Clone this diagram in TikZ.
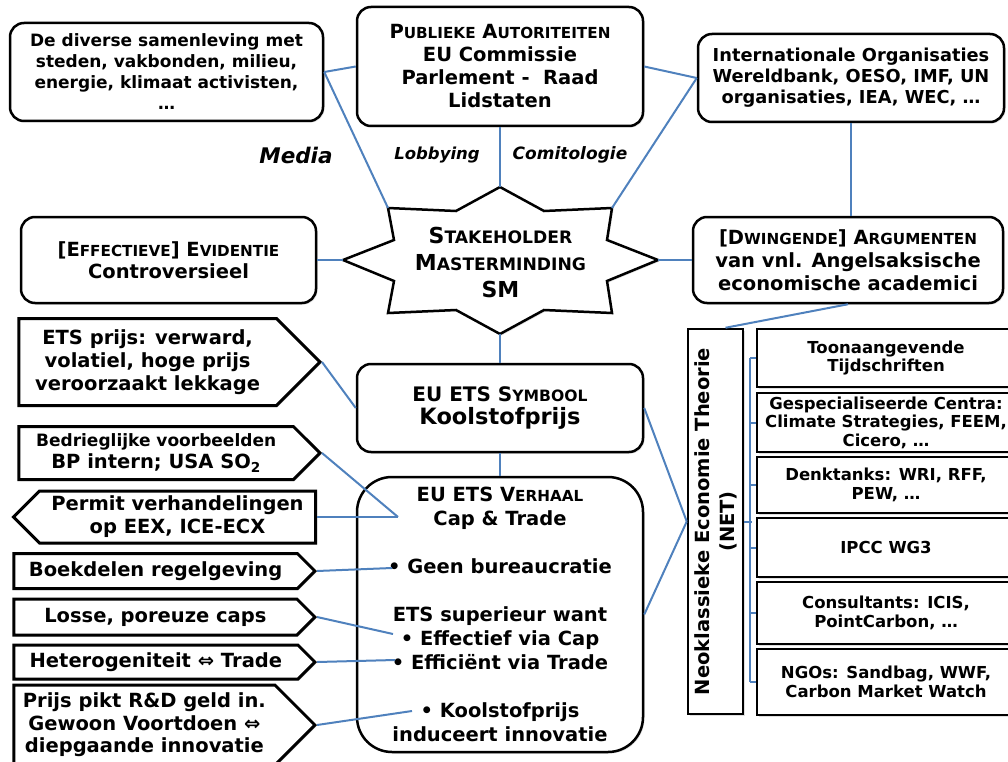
\documentclass[tikz,border=0pt]{standalone}
\usepackage{fontspec}
\setmainfont{DejaVu Sans}
\usetikzlibrary{shapes.symbols,shadows}
\definecolor{lijnblauw}{RGB}{79,129,189}
\makeatletter
\newdimen\kapmaat
\newcommand{\kap}[1]{{\kapmaat=\f@size pt\kapmaat=0.78\kapmaat
  \fontsize{\strip@pt\kapmaat}{\f@baselineskip}\selectfont #1}}
\makeatother
\newcommand{\fs}[2]{\fontsize{#1}{#2}\selectfont\bfseries}
\tikzset{
  schaduw/.style={drop shadow={shadow xshift=1.5pt,shadow yshift=-1.5pt,opacity=0.25}},
  kader/.style={draw,line width=2.5pt,rounded corners=14pt,fill=white,schaduw,align=center,inner sep=0pt},
  pijl/.style={draw,line width=3pt,fill=white,schaduw,shape=signal,signal from=nowhere,signal to=east,
    signal pointer angle=90,align=center,inner sep=0pt,anchor=east,minimum width=301pt},
  blok/.style={draw,line width=2.5pt,fill=white,schaduw,align=center,inner sep=0pt,minimum width=258pt,font=\fs{16.5}{18.5}},
  lijn/.style={draw=lijnblauw,line width=2pt},
}
\begin{document}
\begin{tikzpicture}[x=1pt,y=-1pt]
  \useasboundingbox (0,0) rectangle (1008,762);
  % bovenste rij
  \node[kader,minimum width=313pt,minimum height=98pt,font=\fs{17}{21}](soc)at(166.5,72){De diverse samenleving met\\steden, vakbonden, milieu,\\energie, klimaat activisten,\\…};
  \node[kader,minimum width=286pt,minimum height=119pt,font=\fs{19.5}{23}](pub)at(500,66.5){P\kap{UBLIEKE} A\kap{UTORITEITEN}\\EU Commissie\\Parlement -\ \ Raad\\Lidstaten};
  \node[kader,minimum width=306pt,minimum height=88pt,font=\fs{17.8}{21}](int)at(851,78){Internationale Organisaties\\Wereldbank, OESO, IMF, UN\\organisaties, IEA, WEC, …};

  \node[font=\fs{21.5}{24}\itshape](media)at(296,155){Media};
  \node[font=\fs{16.5}{20}\itshape](lobby)at(437,155){Lobbying};
  \node[font=\fs{17}{20}\itshape](comito)at(570,155){Comitologie};

  % ster
  \draw[line width=2.5pt,fill=white,schaduw,line join=miter]
    (500,187)coordinate(smT)--(544,211)--(612,208)coordinate(smUR)--(607,240)
    --(658,260)coordinate(smR)--(607,281)--(612,313)--(544,310)
    --(500,334)coordinate(smB)--(456,310)--(388,313)--(394,281)
    --(343,260)coordinate(smL)--(394,240)--(388,208)coordinate(smUL)--(456,211)--cycle;
  \node[align=center,inner sep=0pt,font=\fs{22}{27}](sm)at(500.5,262){S\kap{TAKEHOLDER}\\M\kap{ASTERMINDING}\\SM};

  \node[kader,minimum width=295pt,minimum height=86pt,font=\fs{19.5}{22}](ev)at(168.5,260){[E\kap{FFECTIEVE}] E\kap{VIDENTIE}\\Controversieel};
  \node[kader,minimum width=310pt,minimum height=86pt,font=\fs{19.5}{23}](arg)at(848,260){[D\kap{WINGENDE}] A\kap{RGUMENTEN}\\van vnl. Angelsaksische\\economische academici};

  % midden
  \node[kader,minimum width=286pt,minimum height=88pt,font=\fs{20}{23}](sym)at(500,408){EU ETS S\kap{YMBOOL}\\{\fontsize{22.5}{23}\selectfont Koolstofprijs}};
  \node[kader,rounded corners=35pt,minimum width=286pt,minimum height=275pt,font=\fs{19.5}{24}](verh)at(500,614.5){EU ETS V\kap{ERHAAL}\\Cap \& Trade\\[24pt]• Geen bureaucratie\\[24pt]ETS superieur want\\• Effectief via Cap\\• Efficiënt via Trade\\[24pt]• Koolstofprijs\\induceert innovatie};
  \coordinate(kruis)at(398,517);
  \coordinate(bol1)at(392,568);
  \coordinate(bol2)at(393,634);
  \coordinate(bol3)at(395,660);
  \coordinate(bol4)at(412,711);

  % links
  \node[pijl,minimum height=87pt,font=\fs{19.5}{23}](ets)at(322,362){ETS prijs: verward,\\volatiel, hoge prijs\\veroorzaakt lekkage};
  \node[pijl,minimum height=53pt,font=\fs{19.5}{22}](bedr)at(322,453){{\fontsize{17}{20}\selectfont Bedrieglijke voorbeelden}\\BP intern; USA SO\textsubscript{2}};
  \node[pijl,signal to=west,minimum width=302pt,minimum height=52pt,font=\fs{19.5}{23}](perm)at(317,517){Permit verhandelingen\\op EEX, ICE-ECX};
  \node[pijl,minimum height=35pt,font=\fs{19.5}{23}](boek)at(317,571){Boekdelen regelgeving};
  \node[pijl,minimum height=36pt,font=\fs{19.5}{23}](losse)at(317,617){Losse, poreuze caps};
  \node[pijl,minimum height=34pt,font=\fs{19.5}{23}](het)at(317,662){Heterogeniteit ⇔ Trade};
  \node[pijl,minimum height=80pt,font=\fs{19.5}{22.5}](prijs)at(317,725){Prijs pikt R\&D geld in.\\Gewoon Voortdoen ⇔\\diepgaande innovatie};

  % rechts
  \node[draw,line width=2.5pt,fill=white,schaduw,minimum width=55pt,minimum height=385pt,inner sep=0pt](net)at(715.5,521.5){};
  \node[rotate=90,align=center,inner sep=0pt,font=\fs{19.5}{25}](nettekst)at(net.center){Neoklassieke Economie Theorie\\(NET)};
  \node[blok,minimum height=58pt](tijd)at(886,358){Toonaangevende\\Tijdschriften};
  \node[blok,minimum height=59pt](centra)at(886,422.5){Gespecialiseerde Centra:\\Climate Strategies, FEEM,\\Cicero, …};
  \node[blok,minimum height=56pt](denk)at(886,485){Denktanks: WRI, RFF,\\PEW, …};
  \node[blok,minimum height=59pt](ipcc)at(886,547.5){IPCC WG3};
  \node[blok,minimum height=62pt](cons)at(886,613){Consultants: ICIS,\\PointCarbon, …};
  \node[blok,minimum height=66pt](ngo)at(886,682){NGOs: Sandbag, WWF,\\Carbon Market Watch};

  % verbindingen
  \draw[lijn](soc.east)--(pub.west);
  \draw[lijn](soc.east)--(smUL);
  \draw[lijn](int.west)--(pub.east);
  \draw[lijn](int.west)--(smUR);
  \draw[lijn](pub.south)--(smT);
  \draw[lijn](int.south)--(int.south|-arg.north);
  \draw[lijn](ev.east)--(smL);
  \draw[lijn](arg.west)--(smR);
  \draw[lijn](arg.south)--([xshift=10pt]net.north);
  \draw[lijn](smB)--(sym.north);
  \draw[lijn](sym.south)--(verh.north);
  \draw[lijn](sym.east)--(net.west);
  \draw[lijn](verh.east)--(net.west);
  \draw[lijn](ets.east)--(sym.west);
  \draw[lijn](bedr.east)--(kruis);
  \draw[lijn](perm.east)--(kruis);
  \draw[lijn](boek.east)--(bol1);
  \draw[lijn](losse.east)--(bol2);
  \draw[lijn](het.east)--(bol3);
  \draw[lijn](prijs.east)--(bol4);
  \draw[lijn](net.east)--++(8,0);
  \draw[lijn]([xshift=-6pt]tijd.west)--([xshift=-6pt]ngo.west);
  \foreach \b in {tijd,centra,denk,ipcc,cons,ngo}
    \draw[lijn](\b.west)--++(-6,0);
\end{tikzpicture}
\end{document}
